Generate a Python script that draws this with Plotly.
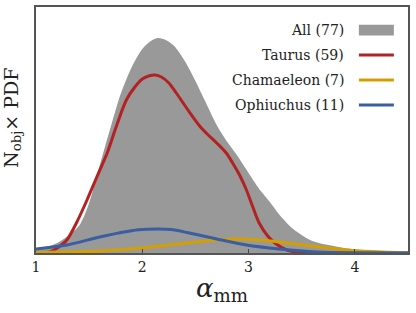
import plotly.graph_objects as go

# Values (x = alpha_mm, y = N_obj x PDF, arbitrary units)
all_x = [1.0, 1.1, 1.2, 1.3, 1.41, 1.5, 1.6, 1.7, 1.8, 1.91, 2.0, 2.08, 2.15, 2.22, 2.3, 2.4,
         2.5, 2.6, 2.7, 2.8, 2.89, 3.0, 3.1, 3.2, 3.3, 3.42, 3.6, 3.8, 4.0, 4.2, 4.5]
all_y = [4, 6, 10, 17, 28, 50, 88, 125, 160, 188, 204, 212, 215, 213, 207, 192,
         172, 150, 128, 111, 98, 80, 64, 51, 37, 24, 12, 7, 3.5, 1.8, 0.5]

taurus_x = [1.0, 1.13, 1.2, 1.29, 1.38, 1.48, 1.58, 1.67, 1.76, 1.85, 1.93, 2.0, 2.06, 2.12,
            2.18, 2.25, 2.32, 2.43, 2.54, 2.62, 2.70, 2.79, 2.85, 2.92, 2.98, 3.04, 3.10,
            3.18, 3.26, 3.36, 3.48, 3.8, 4.5]
taurus_y = [0, 1, 5, 13, 30, 53, 78, 100, 128, 153, 166, 174, 177, 178,
            176, 170, 160, 143, 127, 118, 110, 100, 90, 77, 63, 46, 30,
            17, 9, 3, 0.5, 0, 0]

cham_x = [1.0, 1.3, 1.6, 2.0, 2.42, 2.7, 2.92, 3.1, 3.29, 3.67, 3.98, 4.26, 4.5]
cham_y = [0.5, 1.2, 2, 5, 10, 13, 14, 13, 11, 6, 2.5, 1, 0.3]

oph_x = [1.0, 1.29, 1.6, 1.91, 2.05, 2.15, 2.27, 2.42, 2.7, 2.98, 3.29, 3.64, 4.0, 4.5]
oph_y = [4, 8, 16, 22.5, 23.7, 24, 23.4, 20.5, 14, 8, 4, 1, 0.2, 0]

labels = ["All (77)", "Taurus (59)", "Chamaeleon (7)", "Ophiuchus (11)"]
colors = ["#999999", "#b22222", "#d4a000", "#3a5ea0"]

fig = go.Figure()
fig.add_trace(go.Scatter(x=all_x, y=all_y, mode="lines", fill="tozeroy",
                         line=dict(color=colors[0], width=0, shape="spline", smoothing=0.8),
                         fillcolor=colors[0], showlegend=False, hoverinfo="skip"))
fig.add_trace(go.Scatter(x=taurus_x, y=taurus_y, mode="lines",
                         line=dict(color=colors[1], width=3, shape="spline", smoothing=0.8),
                         showlegend=False, hoverinfo="skip"))
fig.add_trace(go.Scatter(x=cham_x, y=cham_y, mode="lines",
                         line=dict(color=colors[2], width=3, shape="spline", smoothing=0.8),
                         showlegend=False, hoverinfo="skip"))
fig.add_trace(go.Scatter(x=oph_x, y=oph_y, mode="lines",
                         line=dict(color=colors[3], width=3, shape="spline", smoothing=0.8),
                         showlegend=False, hoverinfo="skip"))

font_family = "DejaVu Serif"

# custom legend (text right-aligned, swatch on the right)
leg_y = [0.906, 0.805, 0.703, 0.602]
annotations = []
shapes = []
for i, (lab, col) in enumerate(zip(labels, colors)):
    annotations.append(dict(text=lab, xref="paper", yref="paper", x=0.833, y=leg_y[i],
                            xanchor="right", yanchor="middle", showarrow=False,
                            font=dict(family=font_family, size=14, color="#222")))
    if i == 0:
        shapes.append(dict(type="rect", xref="paper", yref="paper", x0=0.868, x1=0.962,
                           y0=leg_y[i] - 0.022, y1=leg_y[i] + 0.022, fillcolor=col,
                           line=dict(width=0)))
    else:
        shapes.append(dict(type="line", xref="paper", yref="paper", x0=0.868, x1=0.962,
                           y0=leg_y[i], y1=leg_y[i], line=dict(color=col, width=3)))

# axis titles as annotations
annotations.append(dict(text="<i>α</i><sub>mm</sub>", xref="paper", yref="paper",
                        x=0.5, y=-0.15, xanchor="center", yanchor="middle", showarrow=False,
                        font=dict(family=font_family, size=26, color="#222")))
annotations.append(dict(text="N<sub>obj</sub>× PDF", xref="paper", yref="paper",
                        x=-0.025, y=0.55, xanchor="right", yanchor="middle", showarrow=False,
                        textangle=-90, font=dict(family=font_family, size=19, color="#222")))

fig.update_layout(
    width=416, height=313,
    margin=dict(l=36, r=8, t=7, b=60, autoexpand=False),
    paper_bgcolor="white", plot_bgcolor="white",
    font=dict(family=font_family, color="#222"),
    annotations=annotations, shapes=shapes,
    xaxis=dict(range=[1, 4.5], tickvals=[1, 2, 3, 4], ticktext=["1", "2", "3", "4"],
               ticks="inside", ticklen=4, tickcolor="#444", showgrid=False, zeroline=False,
               showline=True, linecolor="#555", linewidth=1.5, mirror=True, automargin=False,
               tickfont=dict(size=14, family=font_family)),
    yaxis=dict(range=[0, 246], showticklabels=False, ticks="", showgrid=False, zeroline=False,
               showline=True, linecolor="#555", linewidth=1.5, mirror=True, automargin=False),
)

fig.write_html("out.html", config={"displayModeBar": False},
               post_script="document.body.style.margin='0';")
